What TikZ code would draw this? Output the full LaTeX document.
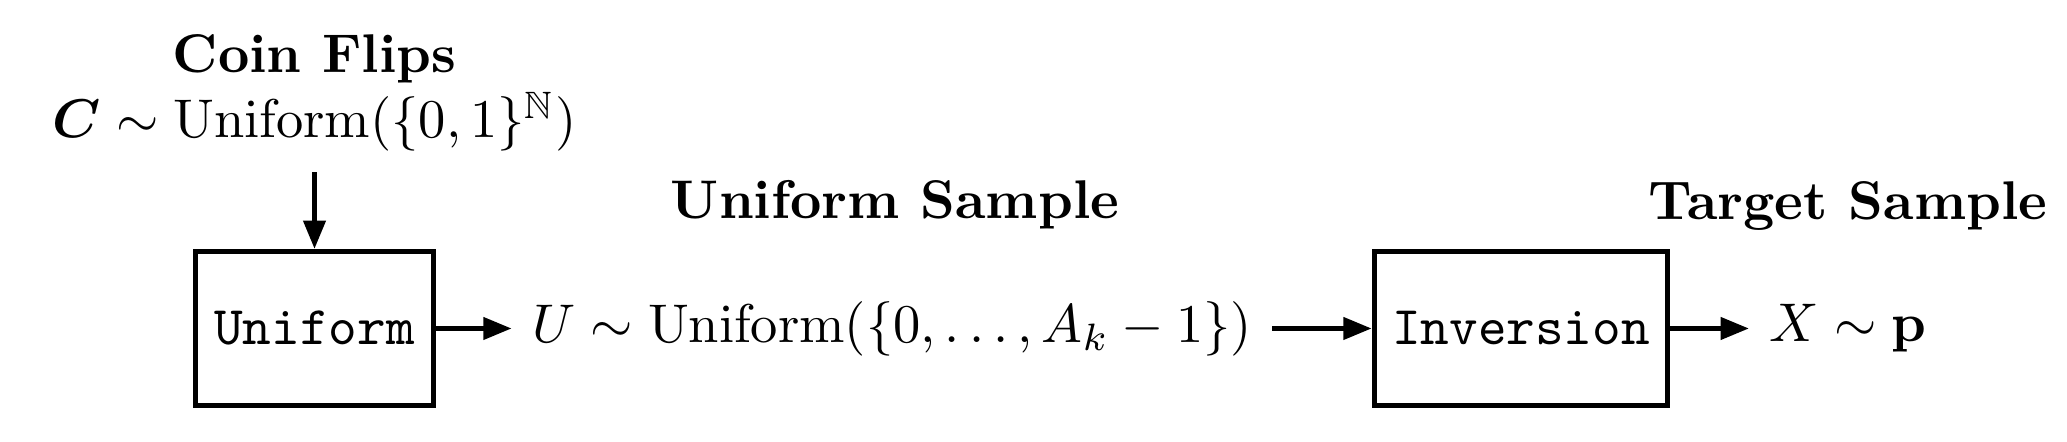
\documentclass[tikz,border=0pt]{standalone}
\usepackage{amsmath,amssymb}
\usetikzlibrary{arrows.meta}

\tikzset{every picture/.style={line width=0.9pt}}
\tikzset{
  blockbox/.style={draw, line width=0.9pt, minimum width=#1, minimum height=28.3pt, inner sep=3.33pt},
  flowarrow/.style={-{Triangle[length=5.2pt,width=4pt]}, line width=0.9pt},
}

\begin{document}
\begin{tikzpicture}[x=0.1835pt,y=0.1835pt,yscale=-1,xscale=1]
%set diagram to the frame of the reference
\useasboundingbox (0,0) rectangle (2067,442);

%Shape: Rectangle [id:unif]
\node [blockbox=43.7pt] (unif) at (314.5,328.5) {\texttt{Uniform}};
%Shape: Rectangle [id:inv]
\node [blockbox=53.8pt] (inv) at (1521,328.5) {\texttt{Inversion}};

% Text Node
\node [anchor=base] (coinTitle) at (314.5,73) {\textbf{Coin Flips}};
% Text Node
\node [anchor=base] (coin) at (314.5,138) {$\boldsymbol{C} \sim \mathrm{Uniform}(\{0,1\}^{\mathbb{N}})$};
% Text Node
\node [anchor=base] (usampTitle) at (895,219) {\textbf{Uniform Sample}};
% Text Node
\node (usamp) at (892,328.5) {$U \sim \mathrm{Uniform}(\{0,\ldots,A_k-1\})$};
% Text Node
\node [anchor=base] (targetTitle) at (1848,220) {\textbf{Target Sample}};
% Text Node
\node (target) at (1848,328.5) {$X \sim \mathbf{p}$};

%Straight Lines [id:arrows]
\draw [flowarrow] (coin.south -| unif.north) -- (unif.north);
\draw [flowarrow] (unif.east) -- (usamp.west);
\draw [flowarrow] (usamp.east) -- (inv.west);
\draw [flowarrow] (inv.east) -- (target.west);
\end{tikzpicture}
\end{document}
